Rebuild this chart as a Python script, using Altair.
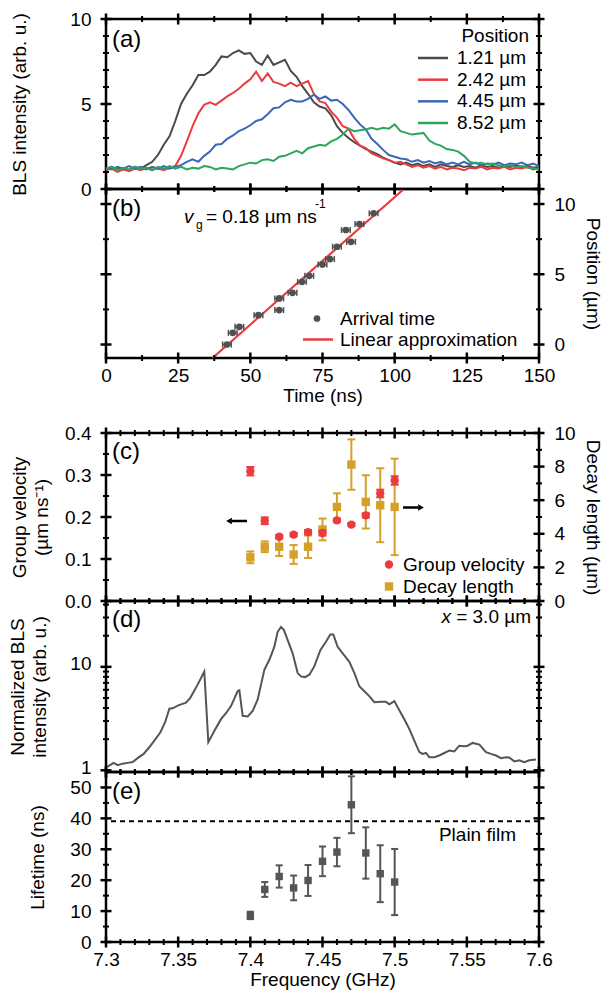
import altair as alt
import pandas as pd

# ---------------- (a) BLS intensity vs time ----------------
time_ns = list(range(0, 151, 2))
bls_121 = [1.20, 1.30, 1.15, 1.25, 1.10, 1.30, 1.20, 1.40, 1.60, 2.00,
           2.60, 3.10, 4.00, 5.00, 5.60, 6.10, 6.70, 6.70, 6.90, 7.30,
           7.80, 7.75, 8.00, 8.15, 7.95, 8.00, 7.50, 7.30, 7.85, 7.30,
           7.45, 7.60, 6.95, 6.60, 6.05, 5.60, 5.10, 4.85, 4.75, 4.35,
           3.70, 3.30, 3.00, 2.75, 2.55, 2.35, 2.20, 2.05, 1.85, 1.70,
           1.55, 1.45, 1.55, 1.40, 1.50, 1.35, 1.45, 1.30, 1.45, 1.35,
           1.30, 1.40, 1.30, 1.35, 1.25, 1.40, 1.30, 1.35, 1.25, 1.35,
           1.30, 1.40, 1.30, 1.35, 1.25, 1.30]
bls_242 = [1.10, 1.20, 1.00, 1.15, 1.05, 1.20, 1.10, 1.25, 1.15, 1.20,
           1.10, 1.25, 1.35, 1.95, 2.80, 3.70, 4.45, 4.95, 5.10, 4.95,
           5.20, 5.45, 5.65, 5.90, 6.20, 6.45, 6.90, 6.35, 6.80, 6.30,
           6.20, 6.05, 6.25, 6.05, 6.20, 6.35, 5.60, 5.15, 5.05, 4.55,
           4.20, 3.70, 3.55, 2.95, 2.55, 2.40, 2.10, 1.95, 1.80, 1.70,
           1.55, 1.60, 1.45, 1.30, 1.40, 1.25, 1.35, 1.20, 1.30, 1.15,
           1.25, 1.20, 1.10, 1.25, 1.20, 1.30, 1.15, 1.25, 1.20, 1.30,
           1.15, 1.25, 1.20, 1.30, 1.15, 1.20]
bls_445 = [1.25, 1.15, 1.30, 1.20, 1.35, 1.20, 1.30, 1.15, 1.30, 1.20,
           1.35, 1.20, 1.30, 1.40, 1.60, 1.75, 1.60, 1.95, 2.20, 2.60,
           2.65, 2.95, 3.15, 3.40, 3.55, 3.75, 4.00, 4.10, 4.40, 4.75,
           4.80, 5.10, 5.25, 5.15, 5.15, 5.30, 5.55, 5.30, 5.45, 5.20,
           5.25, 5.00, 4.65, 4.20, 3.80, 3.50, 2.95, 2.65, 2.30, 2.00,
           1.90, 1.80, 1.75, 1.60, 1.70, 1.55, 1.65, 1.50, 1.60, 1.45,
           1.55, 1.45, 1.60, 1.45, 1.55, 1.40, 1.50, 1.45, 1.55, 1.40,
           1.50, 1.45, 1.55, 1.40, 1.50, 1.35]
bls_852 = [1.20, 1.30, 1.10, 1.25, 1.15, 1.30, 1.20, 1.25, 1.10, 1.30,
           1.20, 1.35, 1.20, 1.30, 1.15, 1.25, 1.20, 1.35, 1.30, 1.15,
           1.25, 1.20, 1.15, 1.35, 1.45, 1.55, 1.50, 1.70, 1.75, 1.65,
           1.90, 1.95, 2.10, 2.25, 2.10, 2.40, 2.50, 2.60, 2.55, 2.80,
           2.95, 3.20, 3.55, 3.40, 3.45, 3.50, 3.60, 3.50, 3.60, 3.55,
           3.80, 3.40, 3.30, 3.20, 3.25, 3.30, 2.85, 2.65, 2.55, 2.35,
           2.30, 2.20, 1.95, 1.60, 1.50, 1.55, 1.45, 1.50, 1.40, 1.35,
           1.40, 1.30, 1.35, 1.25, 1.20, 1.15]
position_labels = ["1.21 µm", "2.42 µm", "4.45 µm", "8.52 µm"]
position_colors = ["#4a4a4a", "#ec3b3f", "#3a68b9", "#2ea65a"]

# ---------------- (b) arrival time ----------------
arrival_time_ns = [41.9, 43.9, 46.2, 52.8, 60.0, 60.0, 64.6, 67.9, 70.4, 75.0,
                   77.6, 80.0, 83.1, 84.9, 87.8, 92.7]
arrival_pos_um = [0.00, 0.83, 1.26, 2.09, 3.28, 2.45, 3.68, 4.46, 4.89, 5.70,
                  6.08, 6.96, 8.15, 7.31, 8.58, 9.34]
arrival_err_ns = [1.5, 1.5, 1.5, 1.5, 1.5, 1.5, 1.5, 1.5, 1.5, 1.5,
                  1.5, 1.5, 1.5, 1.5, 1.5, 1.5]
fit_time_ns = [36.9, 102.8]
fit_pos_um = [-0.96, 11.0]

# ---------------- (c) group velocity & decay length ----------------
freq_ghz = [7.40, 7.41, 7.42, 7.43, 7.44, 7.45, 7.46, 7.47, 7.48, 7.49, 7.50]
group_velocity = [0.309, 0.191, 0.153, 0.158, 0.164, 0.162, 0.192, 0.182, 0.204, 0.256, 0.287]
group_velocity_err = [0.010, 0.008, 0.004, 0.004, 0.005, 0.006, 0.004, 0.003, 0.005, 0.009, 0.010]
decay_length = [2.60, 3.23, 3.23, 2.77, 3.23, 4.26, 5.60, 8.12, 5.90, 5.70, 5.60]
decay_length_err = [0.35, 0.32, 0.55, 0.56, 0.67, 0.65, 0.81, 1.50, 1.58, 2.20, 2.87]

# ---------------- (d) normalized BLS spectrum at x = 3.0 µm ----------------
spec_freq_ghz = [7.3007, 7.3053, 7.3081, 7.3115, 7.3150, 7.3185, 7.3219, 7.3261, 7.3300, 7.3335,
                 7.3376, 7.3409, 7.3439, 7.3462, 7.3501, 7.3554, 7.3584, 7.3635, 7.3681, 7.3709,
                 7.3751, 7.3797, 7.3831, 7.3866, 7.3912, 7.3924, 7.3947, 7.3982, 7.4016, 7.4051,
                 7.4097, 7.4132, 7.4166, 7.4189, 7.4212, 7.4231, 7.4259, 7.4293, 7.4328, 7.4351,
                 7.4379, 7.4409, 7.4443, 7.4485, 7.4524, 7.4554, 7.4575, 7.4605, 7.4640, 7.4686,
                 7.4721, 7.4755, 7.4790, 7.4824, 7.4859, 7.4905, 7.4940, 7.4963, 7.4998, 7.5032,
                 7.5067, 7.5102, 7.5136, 7.5171, 7.5194, 7.5217, 7.5240, 7.5275, 7.5309, 7.5344,
                 7.5379, 7.5413, 7.5448, 7.5483, 7.5506, 7.5540, 7.5587, 7.5633, 7.5667, 7.5702,
                 7.5737, 7.5771, 7.5794, 7.5829, 7.5864, 7.5898, 7.5933, 7.5979]
spec_intensity = [1.08, 1.18, 1.12, 1.16, 1.18, 1.20, 1.31, 1.44, 1.67, 1.94,
                  2.32, 2.90, 3.94, 3.97, 4.24, 4.50, 5.02, 6.73, 9.02, 1.87,
                  2.41, 3.12, 3.56, 4.18, 5.81, 5.94, 3.36, 3.31, 3.74, 4.84,
                  9.36, 11.7, 15.6, 21.7, 24.3, 22.9, 18.1, 13.5, 8.70, 8.08,
                  7.96, 8.39, 10.1, 14.5, 17.5, 20.5, 20.5, 15.6, 13.5, 11.2,
                  8.70, 6.49, 5.81, 5.21, 4.56, 4.59, 4.59, 4.34, 4.67, 3.80,
                  3.12, 2.50, 1.94, 1.50, 1.44, 1.47, 1.34, 1.34, 1.39, 1.47,
                  1.55, 1.52, 1.73, 1.71, 1.73, 1.84, 1.77, 1.50, 1.44, 1.39,
                  1.31, 1.34, 1.33, 1.22, 1.25, 1.20, 1.25, 1.27]

# ---------------- (e) lifetime ----------------
lifetime_ns = [8.6, 17.0, 21.2, 17.5, 19.9, 26.1, 29.1, 44.4, 28.8, 22.1, 19.4]
lifetime_err_ns = [1.2, 2.4, 3.6, 4.0, 5.0, 4.8, 4.6, 9.2, 8.3, 9.2, 10.7]
plain_film_lifetime_ns = 39.1

# ---------------- styling ----------------
FONT = "Liberation Sans"
INK = "black"
TICK = "black"
GREY = "#505050"
RED = "#ec3b3f"
GOLD = "#d4a02a"
W = 433

X_TIME = [0, 150]
Y_A = [0, 10]
Y_B = [-0.96, 11.07]
X_FREQ = [7.3, 7.6]
Y_CV = [0, 0.4]
Y_CL = [0, 10]
Y_D = [0.963, 43.3]
Y_E = [0, 55]

time_major = [0, 25, 50, 75, 100, 125, 150]
time_minor = [12.5, 37.5, 62.5, 87.5, 112.5, 137.5]
freq_major = [round(7.3 + 0.05 * k, 2) for k in range(7)]
freq_minor = [round(7.3 + 0.01 * k, 2) for k in range(31) if k % 5 != 0]


def sc(dom, typ="linear"):
    if typ == "log":
        return alt.Scale(type="log", domain=dom, nice=False)
    return alt.Scale(domain=dom, nice=False, zero=False)


def label_axis(orient, values, fmt="d", title=None, lpad=15, tpad=0, loff=0):
    kw = dict(orient=orient, values=values, ticks=False, domain=False, grid=False,
              labels=True, labelPadding=lpad, format=fmt, title=title, labelOffset=loff)
    if title is not None:
        kw.update(titlePadding=tpad)
    return alt.Axis(**kw)


def guides(xdom, xmaj, xmin, yl_dom, yl_maj, yl_min, yr_dom, yr_maj, yr_min, H, ytype="linear",
           xlab=False, xfmt="d", xtitle=None, xtpad=1,
           yllab=False, ylfmt="d", yltitle=None, yltpad=10, yloff=0,
           yrlab=False, yrfmt="d", yrtitle=None, yrtpad=7):
    out = []
    # crossing tick marks on all four sides
    for vals, half, w in [(xmaj, 5.5, 2.5), (xmin, 3, 2.0)]:
        d = pd.DataFrame({"v": vals})
        xe = alt.X("v:Q", scale=sc(xdom), axis=None)
        out.append(alt.Chart(d).mark_rule(color=TICK, strokeWidth=w).encode(
            x=xe, y=alt.value(-half), y2=alt.value(half)))
        out.append(alt.Chart(d).mark_rule(color=TICK, strokeWidth=w).encode(
            x=xe, y=alt.value(H - half), y2=alt.value(H + half)))
    for dom, vals, half, w, x0 in [(yl_dom, yl_maj, 5.5, 2.5, 0), (yl_dom, yl_min, 3, 2.0, 0),
                                   (yr_dom, yr_maj, 5.5, 2.5, W), (yr_dom, yr_min, 3, 2.0, W)]:
        d = pd.DataFrame({"v": vals})
        out.append(alt.Chart(d).mark_rule(color=TICK, strokeWidth=w).encode(
            y=alt.Y("v:Q", scale=sc(dom, ytype), axis=None),
            x=alt.value(x0 - half), x2=alt.value(x0 + half)))
    # labelled axes (no ticks of their own)
    if xlab:
        d = pd.DataFrame({"gx": [xdom[0]]})
        out.append(alt.Chart(d).mark_point(opacity=0).encode(
            x=alt.X("gx:Q", scale=sc(xdom),
                    axis=label_axis("bottom", xmaj, xfmt, xtitle, 8, xtpad))))
    if yllab:
        d = pd.DataFrame({"gy": [yl_dom[0]]})
        out.append(alt.Chart(d).mark_point(opacity=0).encode(
            y=alt.Y("gy:Q", scale=sc(yl_dom, ytype),
                    axis=label_axis("left", yl_maj, ylfmt, yltitle, 15, yltpad, yloff))))
    if yrlab:
        d = pd.DataFrame({"gy": [yr_dom[0]]})
        out.append(alt.Chart(d).mark_point(opacity=0).encode(
            y=alt.Y("gy:Q", scale=sc(yr_dom, ytype),
                    axis=label_axis("right", yr_maj, yrfmt, yrtitle, 15, yrtpad))))
    return out


def label(text, x, y, size=19, align="left", style="normal", color=INK):
    return alt.Chart(pd.DataFrame({"t": [text]})).mark_text(
        font=FONT, fontSize=size, align=align, baseline="middle", fontStyle=style, color=color
    ).encode(text="t:N", x=alt.value(x), y=alt.value(y))


def panel(layers, height):
    return alt.layer(*layers).resolve_scale(x="independent", y="independent").properties(
        width=W, height=height)


one = pd.DataFrame({"k": [0]})

# ---------------- panel (a) ----------------
H_A = 170
df_a = pd.DataFrame({
    "time": time_ns * 4,
    "intensity": bls_121 + bls_242 + bls_445 + bls_852,
    "position": [p for p in position_labels for _ in time_ns],
})
color_enc = alt.Color("position:N", scale=alt.Scale(domain=position_labels, range=position_colors),
                      legend=None)
lines_a = alt.Chart(df_a).mark_line(strokeWidth=2).encode(
    x=alt.X("time:Q", scale=sc(X_TIME), axis=None),
    y=alt.Y("intensity:Q", scale=sc(Y_A), axis=None),
    color=color_enc, detail="position:N")
df_leg_a = pd.DataFrame({"position": position_labels})
leg_y = alt.Y("position:N", scale=alt.Scale(type="point", domain=position_labels,
                                             range=[39, 104], padding=0), axis=None)
leg_a_lines = alt.Chart(df_leg_a).mark_rule(strokeWidth=2.5).encode(
    x=alt.value(312), x2=alt.value(342), y=leg_y, color=color_enc)
leg_a_text = alt.Chart(df_leg_a).mark_text(
    font=FONT, fontSize=19, align="left", baseline="middle", color=INK).encode(
    x=alt.value(351), y=leg_y, text="position:N")

pa = panel([lines_a, leg_a_lines, leg_a_text,
            label("Position", 423, 17, align="right"),
            label("(a)", 6, 21, size=24)] +
           guides(X_TIME, time_major, time_minor, Y_A, [0, 5, 10], [1, 2, 3, 4, 6, 7, 8, 9],
                  Y_A, [0, 5, 10], [1, 2, 3, 4, 6, 7, 8, 9], H_A,
                  yllab=True, yltitle="BLS intensity (arb. u.)", yltpad=40),
           H_A)

# ---------------- panel (b) ----------------
H_B = 169
df_b = pd.DataFrame({"t": arrival_time_ns, "pos": arrival_pos_um, "err": arrival_err_ns})
df_b["lo"] = df_b["t"] - df_b["err"]
df_b["hi"] = df_b["t"] + df_b["err"]
df_fit = pd.DataFrame({"t": fit_time_ns, "pos": fit_pos_um})


def xb(f):
    return alt.X(f, scale=sc(X_TIME), axis=None)


yb = alt.Y("pos:Q", scale=sc(Y_B), axis=None)
bars_b = alt.Chart(df_b).mark_rule(color=GREY, strokeWidth=1.5).encode(x=xb("lo:Q"), x2="hi:Q", y=yb)
caps_b1 = alt.Chart(df_b).mark_tick(orient="vertical", size=6, thickness=1.5, color=GREY,
                                    opacity=1).encode(x=xb("lo:Q"), y=yb)
caps_b2 = alt.Chart(df_b).mark_tick(orient="vertical", size=6, thickness=1.5, color=GREY,
                                    opacity=1).encode(x=xb("hi:Q"), y=yb)
pts_b = alt.Chart(df_b).mark_point(filled=True, shape="circle", size=45, color=GREY,
                                   opacity=1).encode(x=xb("t:Q"), y=yb)
fit_b = alt.Chart(df_fit).mark_line(color=RED, strokeWidth=2.2, clip=True).encode(
    x=xb("t:Q"), y=alt.Y("pos:Q", scale=sc(Y_B), axis=None))
leg_b_pt = alt.Chart(one).mark_point(filled=True, shape="circle", size=45, color=GREY,
                                     opacity=1).encode(x=alt.value(211), y=alt.value(129.5))
leg_b_line = alt.Chart(one).mark_rule(color=RED, strokeWidth=2.5).encode(
    x=alt.value(197), x2=alt.value(227), y=alt.value(150.5))

pb = panel([fit_b, bars_b, caps_b1, caps_b2, pts_b, leg_b_pt, leg_b_line,
            label("Arrival time", 234, 129.5),
            label("Linear approximation", 234, 150.5),
            label("v", 78, 28, style="italic"),
            label("g", 90, 36, size=12),
            label("= 0.18 µm ns", 100, 28),
            label("-1", 209, 15, size=12),
            label("(b)", 6, 20, size=24)] +
           guides(X_TIME, time_major, time_minor, Y_B, [0, 5, 10], [2.5, 7.5],
                  Y_B, [0, 5, 10], [2.5, 7.5], H_B,
                  xlab=True, xtitle="Time (ns)", xtpad=1,
                  yrlab=True, yrtitle="Position (µm)", yrtpad=7),
           H_B)

# ---------------- spacer ----------------
spacer = alt.Chart(one).mark_point(opacity=0).encode(
    x=alt.X("k:Q", axis=None), y=alt.Y("k:Q", axis=None)).properties(
    width=W, height=75, view=alt.ViewBackground(stroke="transparent"))

# ---------------- panel (c) ----------------
H_C = 168
df_c = pd.DataFrame({"f": freq_ghz, "v": group_velocity, "ve": group_velocity_err,
                     "L": decay_length, "Le": decay_length_err})
df_c["vlo"] = df_c["v"] - df_c["ve"]
df_c["vhi"] = df_c["v"] + df_c["ve"]
df_c["Llo"] = df_c["L"] - df_c["Le"]
df_c["Lhi"] = df_c["L"] + df_c["Le"]
xc = alt.X("f:Q", scale=sc(X_FREQ), axis=None)


def yv(f):
    return alt.Y(f, scale=sc(Y_CV), axis=None)


def yl(f):
    return alt.Y(f, scale=sc(Y_CL), axis=None)


c_layers = []
for col, yfun, lo, hi, mid, shape in [(GOLD, yl, "Llo:Q", "Lhi:Q", "L:Q", "square"),
                                      (RED, yv, "vlo:Q", "vhi:Q", "v:Q", "circle")]:
    c_layers.append(alt.Chart(df_c).mark_rule(color=col, strokeWidth=2).encode(
        x=xc, y=yfun(lo), y2=hi))
    for end in (lo, hi):
        c_layers.append(alt.Chart(df_c).mark_tick(orient="horizontal", size=8, thickness=2,
                                                  color=col, opacity=1).encode(x=xc, y=yfun(end)))
    c_layers.append(alt.Chart(df_c).mark_point(filled=True, shape=shape, size=70, color=col,
                                               opacity=1).encode(x=xc, y=yfun(mid)))

arrows = [
    alt.Chart(one).mark_rule(color=INK, strokeWidth=2.5).encode(
        x=alt.value(126), x2=alt.value(141), y=alt.value(88)),
    alt.Chart(one).mark_point(shape="triangle-left", filled=True, size=45, color=INK,
                              opacity=1).encode(x=alt.value(123), y=alt.value(88)),
    alt.Chart(one).mark_rule(color=INK, strokeWidth=2.5).encode(
        x=alt.value(297), x2=alt.value(312), y=alt.value(74.5)),
    alt.Chart(one).mark_point(shape="triangle-right", filled=True, size=45, color=INK,
                              opacity=1).encode(x=alt.value(315), y=alt.value(74.5)),
]
leg_c = [
    alt.Chart(one).mark_point(filled=True, shape="circle", size=70, color=RED, opacity=1).encode(
        x=alt.value(283), y=alt.value(131.5)),
    alt.Chart(one).mark_point(filled=True, shape="square", size=70, color=GOLD, opacity=1).encode(
        x=alt.value(283), y=alt.value(153.5)),
    label("Group velocity", 297, 131.5),
    label("Decay length", 297, 154),
]
pc = panel(c_layers + arrows + leg_c + [label("(c)", 6, 19, size=24)] +
           guides(X_FREQ, freq_major, freq_minor, Y_CV, [0, 0.1, 0.2, 0.3, 0.4],
                  [0.05, 0.15, 0.25, 0.35], Y_CL, [0, 2, 4, 6, 8, 10], [1, 3, 5, 7, 9], H_C,
                  yllab=True, ylfmt=".1f", yltitle=["Group velocity", "(µm ns⁻¹)"], yltpad=13,
                  yrlab=True, yrtitle="Decay length (µm)", yrtpad=7),
           H_C)

# ---------------- panel (d) ----------------
H_D = 171
df_d = pd.DataFrame({"f": spec_freq_ghz, "I": spec_intensity})
line_d = alt.Chart(df_d).mark_line(color="#555555", strokeWidth=2).encode(
    x=alt.X("f:Q", scale=sc(X_FREQ), axis=None),
    y=alt.Y("I:Q", scale=sc(Y_D, "log"), axis=None))
log_minor = [2, 3, 4, 5, 6, 7, 8, 9, 20, 30, 40]
pdd = panel([line_d, label("(d)", 6, 19, size=24),
             label("= 3.0 µm", 425, 16, align="right"),
             label("x", 345, 16, align="right", style="italic")] +
            guides(X_FREQ, freq_major, freq_minor, Y_D, [1, 10], log_minor,
                   Y_D, [1, 10], log_minor, H_D, ytype="log",
                   yllab=True, yltitle=["Normalized BLS", "intensity (arb. u.)"], yltpad=20,
                   yloff=-3),
            H_D)

# ---------------- panel (e) ----------------
H_E = 170
df_e = pd.DataFrame({"f": freq_ghz, "tau": lifetime_ns, "err": lifetime_err_ns})
df_e["lo"] = df_e["tau"] - df_e["err"]
df_e["hi"] = df_e["tau"] + df_e["err"]


def ye(f):
    return alt.Y(f, scale=sc(Y_E), axis=None)


xe_ = alt.X("f:Q", scale=sc(X_FREQ), axis=None)
e_layers = [
    alt.Chart(pd.DataFrame({"p": [plain_film_lifetime_ns]})).mark_rule(
        color=INK, strokeWidth=2, strokeDash=[5, 4]).encode(y=ye("p:Q")),
    alt.Chart(df_e).mark_rule(color="#555555", strokeWidth=2).encode(x=xe_, y=ye("lo:Q"), y2="hi:Q"),
    alt.Chart(df_e).mark_tick(orient="horizontal", size=7, thickness=2, color="#555555",
                              opacity=1).encode(x=xe_, y=ye("lo:Q")),
    alt.Chart(df_e).mark_tick(orient="horizontal", size=7, thickness=2, color="#555555",
                              opacity=1).encode(x=xe_, y=ye("hi:Q")),
    alt.Chart(df_e).mark_point(filled=True, shape="square", size=55, color="#555555",
                               opacity=1).encode(x=xe_, y=ye("tau:Q")),
    label("Plain film", 410, 63, align="right"),
    label("(e)", 6, 20, size=24),
]
pe = panel(e_layers +
           guides(X_FREQ, freq_major, freq_minor, Y_E, [0, 10, 20, 30, 40, 50],
                  [5, 15, 25, 35, 45], Y_E, [0, 10, 20, 30, 40, 50], [5, 15, 25, 35, 45], H_E,
                  xlab=True, xfmt=".2~f", xtitle="Frequency (GHz)", xtpad=1,
                  yllab=True, yltitle="Lifetime (ns)", yltpad=22),
           H_E)

chart = alt.vconcat(pa, pb, spacer, pc, pdd, pe, spacing=0, bounds="flush").properties(
    padding={"left": -1, "top": 0, "right": 0, "bottom": 0}
).configure_view(stroke=INK, strokeWidth=2.5).configure_axis(
    labelFont=FONT, labelFontSize=19, labelColor=INK, titleFont=FONT, titleFontSize=19,
    titleFontWeight="normal", titleColor=INK, labelFlush=False, labelOverlap=False,
    titleLineHeight=22)

chart.save("out.html", embed_options={"renderer": "svg", "actions": False})
